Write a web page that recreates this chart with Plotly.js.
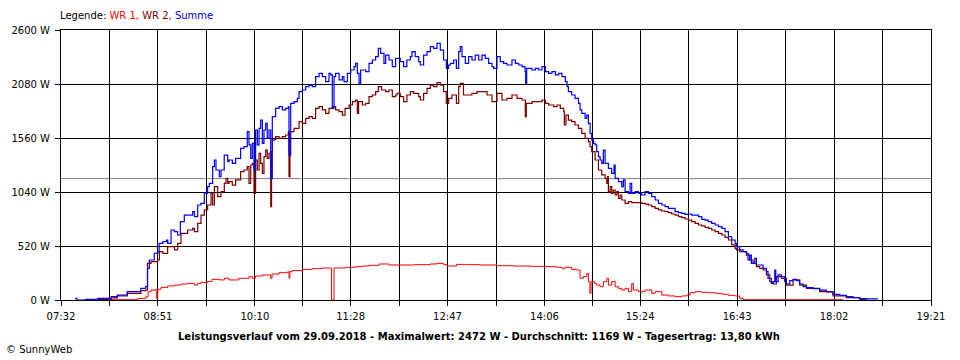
<!DOCTYPE html>
<html>
<head>
<meta charset="utf-8">
<script src="https://cdn.plot.ly/plotly-3.0.1.min.js"></script>
<style>html,body{margin:0;padding:0;background:#fff;}#chart{width:960px;height:360px;}</style>
</head>
<body>
<div id="chart"></div>
<script>
// ---- data (time in minutes since midnight, power in W) ----
const xTickText = ["07:32","08:51","10:10","11:28","12:47","14:06","15:24","16:43","18:02","19:21"];
const yTickVals = [0, 520, 1040, 1560, 2080, 2600];

const summeT = [463.5,465,472,482,493,498,506,517,521,522.5,524,528,531,532,535,538,539,541.7,544.4,547,549.3,552.5,556.6,559.3,560.7,563.4,566,568.8,571.5,572.9,575.6,577,578.3,581,582.4,585,587.9,
588.9,591.6,594.3,598.4,601.1,603.8,605.2,606.6,607.9,609.3,610.6,612,613.4,614.7,616.1,617.4,618.8,620.1,621.5,622.9,624.2,626.9,629.7,632.4,635.1,637.3,637.8,639.2,641.9,644.6,646,648.7,651.4,654.1,656.8,659.5,662.3,665,667.7,670.4,671.8,673.1,674.5,675.8,678.6,681.3,682.6,685.4,688.1,690.8,692.1,693.5,694.9,696.2,700.3,703,705.7,708.4,710.6,712.5,715.2,716.6,719.3,722,724.7,
725.8,728.5,731.2,733.9,736.7,738,740.7,743.5,744.8,747.5,750.3,753,755.7,758.4,761.1,763.8,766,767.9,769.3,772,774.2,776.1,777.4,778.8,781.5,784.2,786.9,789.6,792.4,795.1,797.8,800.5,803.2,804.6,807.3,810,812.7,815.5,819.5,822.3,825,827.7,830.2,830.7,831.5,835.8,838.6,841.3,844,846.7,849.4,852.1,854.9,857.6,860.3,863,
864.4,865.5,868.2,870.9,873.7,875,876.4,879.1,880.5,881.8,883.2,884.5,885.9,887.3,888.6,890,891.3,892.7,894,895.4,898.1,900.8,902.7,903.6,906.3,909,910.3,911.7,914.4,915.8,917.1,919.9,922.6,925.3,928,930.7,933.4,936.2,938.9,941.6,944.3,947,949.7,952.5,955.2,957.9,960.6,963.3,966,968.8,971.5,974.2,976.9,979.6,982.3,985.1,987.8,990.5,993.2,995.9,998.6,1001.4,
1002.4,1005.1,1007.9,1010.6,1011.9,1013.3,1014.6,1017.4,1018.7,1021.4,1024.2,1026.9,1028.2,1030.9,1032.3,1033.7,1034.5,1036.4,1039.1,1041.8,1043.2,1045.9,1048.6,1051.3,1054,1056.8,1059.5,1064.9,1070.3,1075.8,1081.2,1086.6,1092.1,1097.5,1102.9,1108.4,1117.3];
const summeW = [16,0,6,16,32,48,80,112,128,305,385,449,465,546,562,578,546,674,658,626,754,818,818,851,802,915,931,1027,1091,1123,1284,1348,1252,1188,1252,1396,1332,
1348,1316,1364,1460,1477,1621,1493,1364,1509,1252,1637,1493,1653,1733,1509,1637,1701,1557,1637,1172,1765,1846,1862,1830,1846,1862,1396,1894,1910,1942,2006,2022,2054,2070,2054,2151,2183,2151,2102,2183,2167,1846,2151,2183,2119,2151,2102,2183,2215,2247,2279,2183,2086,2215,2199,2279,2311,2343,2423,2375,2279,2359,2311,2247,2327,
2327,2295,2247,2311,2343,2391,2343,2295,2263,2359,2391,2440,2423,2472,2407,2311,2231,2263,2279,2311,2231,2391,2440,2343,2279,2343,2311,2359,2311,2359,2327,2279,2247,2231,2343,2295,2279,2263,2311,2279,2263,2247,2199,2086,2231,2215,2231,2215,2247,2199,2183,2199,2167,2183,2151,2102,
2054,2006,1974,1942,1894,1830,1798,1749,1781,1701,1605,1541,1509,1493,1428,1380,1348,1316,1444,1316,1268,1220,1300,1172,1139,1091,1156,1043,1027,1123,1027,1043,1027,1011,1043,1027,995,963,931,915,899,883,883,851,841,835,825,828,818,818,802,777,770,754,738,722,706,690,658,610,578,546,
514,482,465,449,385,433,353,401,337,337,305,273,209,160,177,289,177,241,225,177,154,186,199,186,154,128,119,109,96,77,55,45,32,22,13,10,6];

const wr2T = [472,493,498,506,517,521,522.5,525.4,530.8,532.2,534.9,538.9,541.7,544.4,547.1,549.8,555.2,559.3,560.7,563.4,566.1,568.8,571.5,574.3,575.6,577,579.7,582.4,585.1,586.5,587.9,
588.9,591.6,594.3,598.4,601.1,603.8,605.2,606.6,607.9,609.3,610.6,612,613.4,614.7,616.1,617.4,618.8,620.1,621.5,622.9,623.6,624.2,626.9,629.7,632.4,635.1,637.3,637.8,638.6,641.9,644.6,646,648.7,651.4,654.1,656.8,659.5,662.3,665,667.7,670.4,673.1,675.8,678.6,681.3,683.5,686.8,689.5,692.1,693.5,694.5,697.6,700.3,703,705.7,708.4,710.6,713.2,716.6,719.3,722,724.7,
725.8,728.5,731.2,733.9,736.7,739.4,743.5,744.8,747.5,750.3,753,755.7,758.4,761.1,763.8,766,767.9,770.6,774.2,776.1,777.4,780,782.8,786.9,791,796.4,799.2,803.2,807.3,811.4,815.5,819.5,823.6,827.7,830.4,831.2,835.8,839.9,844,846.7,849.4,853.5,856.2,858.9,861.7,862.2,863.5,
865.5,868.2,870.9,873.7,876.4,879.1,881.8,883.2,884.5,887.3,890,892.7,895.4,896.8,897.5,898.1,899.5,900.8,902,903.6,905,906.3,907.7,909,911.7,914.4,917.1,922.6,925.3,928,930.7,933.4,936.2,938.9,941.6,944.3,947,949.7,952.5,955.2,957.9,960.6,963.3,966,968.8,971.5,974.2,976.9,979.6,982.3,985.1,987.8,990.5,993.2,995.9,998.6,1001.4,
1002.4,1005.1,1010.6,1013.3,1016,1018.7,1021.4,1024.2,1026.9,1029.6,1032.3,1035,1039.1,1043.2,1048.6,1054,1059.5,1070.3,1081.2,1092.1,1102.9,1108.4];
const wr2W = [4,20,40,64,90,96,353,369,385,465,449,514,514,482,546,642,674,690,658,738,818,867,915,1027,915,1091,995,1043,1123,1172,1123,
1139,1107,1156,1236,1252,1284,1123,1300,1316,1027,1348,1252,1412,1316,1220,1380,1444,1364,1412,899,1430,1541,1573,1557,1573,1589,1621,1188,1621,1653,1653,1717,1701,1749,1765,1749,1846,1862,1830,1798,1846,1862,1830,1814,1781,1846,1878,1910,1926,1798,1910,1878,1894,1958,1974,2006,2054,2022,2006,2022,1958,1974,
1990,1958,1910,1974,2006,1990,1958,1926,1990,2038,2070,2054,2093,2070,2006,1894,1942,1974,1894,2054,2086,1974,1974,1990,2006,2006,1974,1910,1990,1926,1942,1974,1942,1926,1765,1894,1910,1910,1926,1894,1878,1862,1878,1846,1814,1685,1781,
1733,1717,1685,1653,1605,1557,1525,1477,1428,1348,1252,1204,1172,1123,1188,1043,1091,1027,1059,1011,1043,979,1011,963,931,947,937,937,931,924,915,899,883,867,857,851,841,828,818,802,793,780,770,754,738,722,713,700,690,674,658,642,626,603,578,530,498,
482,465,433,385,353,321,305,289,241,177,154,225,209,144,193,144,112,80,39,22,6,3];

const wr1T = [493,514.5,521.3,523,525.4,529.5,530,530.8,533.5,538.9,544.4,549.8,555.2,560.7,563.4,566.1,571.5,575,581.1,585.1,
588.9,597,605.2,607.9,610.6,616.1,622.9,624,629.7,636.4,637.8,638.5,640.5,648.7,656.8,665,671.8,672.5,674.5,684,692.1,697.6,703,711.2,719.3,727.5,
739.4,753,758.4,763.8,766.5,774.2,781.5,793.7,807.3,820.9,834.5,845.4,856.2,860.3,862.8,868.2,872.3,875,877.7,880.5,881.8,883,884,886.6,888.6,891.3,894,896.8,898.1,900.8,903.6,906.3,909,911.7,914.4,917.1,918.5,922.6,928,933.4,936.2,941.6,947,952.5,957.9,962,964.7,968.8,974.2,979.6,985.1,990.5,995.9,1001.4,1005.1,1007.9,1089.4];
const wr1W = [3,16,32,80,96,103,16,103,122,135,144,154,160,144,160,170,177,199,193,209,
193,209,225,209,231,241,209,250,263,270,209,275,283,295,302,308,308,0,308,315,321,327,334,347,337,337,
340,347,353,343,327,343,340,337,330,327,324,321,315,305,315,295,289,209,225,257,177,64,177,160,144,128,177,209,144,177,128,112,96,112,80,160,96,80,96,64,80,48,39,32,39,48,71,80,74,71,64,55,45,39,16,3,3];

const durchschnitt = 1169;
const maximalwert = 2472;
const tagesertrag = "13,80";
const datum = "29.09.2018";

// ---- helpers ----
const toMin = s => { const p = s.split(':').map(Number); return p[0] * 60 + p[1]; };
const xTickVals = xTickText.map(toMin);
const xMinor = xTickVals.slice(1).map((v, i) => (v + xTickVals[i]) / 2);
const yTickText = yTickVals.map(v => v + ' W');

const FONT = 'DejaVu Sans, Verdana, sans-serif';

const mk = (x, y, color, w) => ({
  x: x, y: y, type: 'scatter', mode: 'lines',
  line: {color: color, width: w, shape: 'hv'},
  hoverinfo: 'skip', showlegend: false
});

const traces = [
  mk(wr1T, wr1W, '#ff0000', 1),
  mk(wr2T, wr2W, '#800000', 1.2),
  mk(summeT, summeW, '#0000ff', 1.2)
];

const layout = {
  width: 960, height: 360,
  margin: {l: 61, r: 29, t: 30, b: 60, pad: 0},
  paper_bgcolor: '#ffffff', plot_bgcolor: '#ffffff',
  font: {family: FONT, size: 10, color: '#000'},
  showlegend: false,
  xaxis: {
    type: 'linear',
    range: [xTickVals[0], xTickVals[xTickVals.length - 1]],
    tickmode: 'array', tickvals: xTickVals, ticktext: xTickText,
    showgrid: true, gridcolor: '#000', gridwidth: 1,
    showline: true, linecolor: '#000', linewidth: 1, mirror: true,
    ticks: 'outside', ticklen: 5, tickcolor: '#000', tickwidth: 1,
    ticklabelstandoff: 2,
    zeroline: false, fixedrange: true,
    tickfont: {family: FONT, size: 10, color: '#000'},
    minor: {tickmode: 'array', tickvals: xMinor, showgrid: true, gridcolor: '#000', gridwidth: 1,
            ticks: 'outside', ticklen: 5, tickcolor: '#000', tickwidth: 1}
  },
  yaxis: {
    range: [yTickVals[0], yTickVals[yTickVals.length - 1]],
    tickmode: 'array', tickvals: yTickVals, ticktext: yTickText,
    showgrid: true, gridcolor: '#000', gridwidth: 1,
    showline: true, linecolor: '#000', linewidth: 1, mirror: true,
    ticks: 'outside', ticklen: 5, tickcolor: '#000', tickwidth: 1,
    ticklabelstandoff: 3,
    zeroline: false, fixedrange: true,
    tickfont: {family: FONT, size: 10, color: '#000'}
  },
  shapes: [{
    type: 'line', xref: 'paper', x0: 0, x1: 1, yref: 'y', y0: durchschnitt, y1: durchschnitt,
    line: {color: '#808080', width: 1}, layer: 'between'
  }],
  annotations: [
    {xref: 'paper', yref: 'paper', x: -0.003, y: 1.052, xanchor: 'left', yanchor: 'middle', showarrow: false,
     font: {family: FONT, size: 10, color: '#000'},
     text: 'Legende: <span style="color:#ff0000">WR 1, </span><span style="color:#800000">WR 2, </span><span style="color:#0000ff">Summe</span>'},
    {xref: 'paper', yref: 'paper', x: 0.481, y: -0.137, xanchor: 'center', yanchor: 'middle', showarrow: false,
     font: {family: FONT, size: 10, color: '#000'},
     text: '<b>Leistungsverlauf vom ' + datum + ' - Maximalwert: ' + maximalwert + ' W - Durchschnitt: ' + durchschnitt + ' W - Tagesertrag: ' + tagesertrag + ' kWh</b>'},
    {xref: 'paper', yref: 'paper', x: -0.0655, y: -0.185, xanchor: 'left', yanchor: 'middle', showarrow: false,
     font: {family: FONT, size: 10, color: '#000'},
     text: '© SunnyWeb'}
  ]
};

Plotly.newPlot('chart', traces, layout, {staticPlot: true, displayModeBar: false});
</script>
</body>
</html>
